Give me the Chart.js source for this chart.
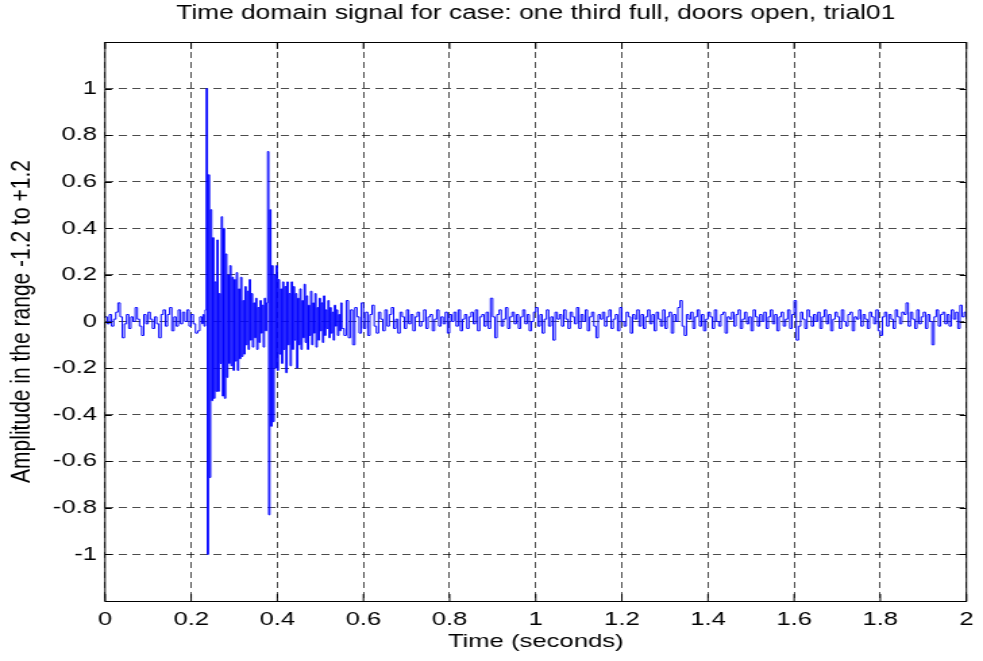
<!DOCTYPE html>
<html>
<head>
<meta charset="utf-8">
<title>Time domain signal</title>
<script src="https://cdn.jsdelivr.net/npm/chart.js@4.4.1/dist/chart.umd.min.js"></script>
<style>
  html, body { margin: 0; padding: 0; background: #fff; overflow: hidden; }
</style>
</head>
<body>
<!-- the figure is horizontally stretched like the original export -->
<canvas id="plot" width="728" height="661" style="width:983px;height:661px;"></canvas>
<script>
// tick labels
const xTickValues = [0, 0.2, 0.4, 0.6, 0.8, 1, 1.2, 1.4, 1.6, 1.8, 2];
const yTickValues = [-1, -0.8, -0.6, -0.4, -0.2, 0, 0.2, 0.4, 0.6, 0.8, 1];

// quiet lead-in, 0 .. 0.225 s, one sample every 5 ms
const leadStart = 0;
const leadStep = 0.005;
const leadValues = [
  0.02, -0.01, 0.03, -0.02, 0.01, 0.04, 0.08, 0.02, -0.07, -0.01,
  0.03, -0.03, 0.02, 0.00, 0.06, 0.01, -0.02, -0.06, 0.03, -0.01,
  0.04, 0.01, -0.03, 0.02, -0.01, -0.07, 0.03, 0.05, -0.02, 0.03,
  0.06, -0.04, 0.02, -0.02, 0.05, -0.01, 0.04, 0.00, 0.05, -0.02,
  0.03, -0.01, -0.05, -0.04, 0.02, -0.01
];

// the two knocks, 0.2275 .. 0.55 s, one sample every 2.5 ms
const burstStart = 0.2275;
const burstStep = 0.0025;
const burstValues = [
  0.03, -0.02, 0.05, 1.00, -1.00, 0.63, -0.67, 0.48, -0.34, 0.36,
  -0.33, 0.17, -0.30, 0.35, -0.30, 0.12, -0.18, 0.45, -0.32, 0.40,
  -0.33, 0.29, -0.24, 0.20, -0.18, 0.24, -0.19, 0.19, -0.21, 0.18,
  -0.17, 0.21, -0.21, 0.14, -0.16, 0.19, -0.15, 0.09, -0.14, 0.15,
  -0.10, 0.13, -0.12, 0.18, -0.08, 0.12, -0.11, 0.08, -0.07, 0.10,
  -0.12, 0.06, -0.09, 0.09, -0.05, 0.07, -0.11, 0.10, -0.04, 0.08,
  0.73, -0.83, 0.48, -0.45, 0.24, -0.43, 0.20, -0.20, 0.24, -0.21,
  0.18, -0.14, 0.14, -0.18, 0.17, -0.12, 0.15, -0.22, 0.17, -0.10,
  0.12, -0.19, 0.17, -0.12, 0.15, -0.08, 0.12, -0.20, 0.10, -0.10,
  0.14, -0.12, 0.09, -0.07, 0.16, -0.09, 0.11, -0.12, 0.07, -0.06,
  0.13, -0.10, 0.08, -0.05, 0.12, -0.11, 0.06, -0.08, 0.10, -0.04,
  0.08, -0.09, 0.11, -0.06, 0.05, -0.03, 0.09, -0.07, 0.06, -0.05,
  0.04, -0.08, 0.07, -0.02, 0.05, -0.06, 0.03, -0.04, 0.08, -0.03
];

// background noise after the knocks, 0.555 .. 2.0 s, one sample every 5 ms
const tailStart = 0.555;
const tailStep = 0.005;
const tailValues = [
  -0.06, 0.09, -0.07, 0.05, -0.10, 0.06, 0.02, -0.05, 0.08, -0.03, 0.04, -0.06, 0.03, 0.07, -0.02, -0.05, 0.04, 0.01, -0.04, 0.05,
  -0.02, 0.03, 0.06, -0.03, 0.01, -0.05, 0.04, 0.02, -0.03, 0.05, -0.01, 0.03, -0.04, 0.02, 0.04, -0.02, 0.00, 0.05, -0.03, 0.02,
  0.03, -0.04, 0.01, 0.05, -0.02, 0.02, -0.01, 0.04, -0.05, 0.03, 0.00, 0.04, -0.02, 0.05, -0.04, 0.01, 0.03, -0.03, 0.02, 0.04,
  -0.01, 0.05, -0.04, 0.02, 0.03, -0.02, 0.04, -0.03, 0.10, 0.02, -0.07, 0.03, 0.05, -0.02, 0.01, 0.06, -0.03, 0.02, 0.04, -0.01,
  0.03, -0.03, 0.02, 0.05, -0.01, 0.03, -0.04, 0.00, 0.04, 0.06, -0.02, 0.03, -0.05, 0.01, 0.05, -0.02, 0.02, -0.08, 0.04, 0.01,
  0.03, -0.02, 0.05, 0.01, -0.03, 0.04, 0.02, -0.01, 0.06, -0.03, 0.03, 0.00, 0.05, -0.04, 0.02, 0.04, -0.02, -0.07, 0.03, 0.01,
  0.04, -0.02, 0.02, 0.05, -0.03, 0.01, 0.03, -0.04, 0.06, 0.00, -0.02, 0.04, 0.02, -0.05, 0.03, 0.01, 0.05, -0.02, 0.03, -0.03,
  0.02, 0.05, -0.01, 0.03, -0.04, 0.04, 0.01, -0.02, 0.05, -0.03, 0.02, 0.04, -0.05, 0.03, 0.00, 0.06, 0.09, -0.02, -0.06, 0.03,
  0.01, 0.04, -0.03, 0.02, 0.05, -0.02, 0.03, -0.04, 0.01, 0.04, 0.02, -0.03, 0.05, 0.00, -0.02, 0.03, 0.04, -0.05, 0.02, 0.01,
  0.04, -0.02, 0.03, 0.05, -0.03, 0.01, 0.04, -0.01, 0.02, -0.04, 0.05, 0.02, -0.02, 0.03, 0.00, 0.04, -0.03, 0.02, 0.05, -0.01,
  0.03, -0.04, 0.02, 0.04, -0.02, 0.01, 0.05, -0.03, 0.03, 0.09, -0.08, -0.02, 0.04, 0.01, -0.03, 0.05, 0.02, -0.02, 0.03, 0.00,
  0.04, -0.03, 0.02, 0.05, -0.01, 0.03, -0.04, 0.01, 0.04, 0.02, -0.03, 0.05, 0.00, -0.02, 0.03, 0.04, -0.04, 0.02, 0.01, 0.05,
  -0.02, 0.03, 0.01, -0.03, 0.04, 0.02, -0.01, 0.05, -0.04, -0.06, 0.02, 0.04, -0.02, 0.03, 0.01, -0.03, 0.05, 0.02, -0.01, 0.04,
  0.03, 0.08, -0.02, 0.04, 0.01, -0.03, 0.05, -0.01, 0.02, 0.04, -0.03, 0.03, 0.00, -0.10, 0.02, 0.05, -0.02, 0.03, 0.04, -0.01,
  0.03, -0.02, 0.05, 0.01, 0.04, -0.03, 0.07, 0.02, 0.04, 0.01
];

const FONT = "'Liberation Sans', Arial, Helvetica, sans-serif";

function toPoints(start, step, values) {
  return values.map((v, i) => ({ x: start + i * step, y: v }));
}

const signal = [
  ...toPoints(leadStart, leadStep, leadValues),
  ...toPoints(burstStart, burstStep, burstValues),
  ...toPoints(tailStart, tailStep, tailValues),
];

// MATLAB style box with inward tick marks on all four sides
const axesBox = {
  id: 'axesBox',
  afterDatasetsDraw(chart) {
    const { ctx, chartArea: a, scales: { x, y } } = chart;
    ctx.save();
    ctx.strokeStyle = '#000';
    ctx.lineWidth = 1;
    ctx.beginPath();
    xTickValues.forEach((v) => {
      const px = x.getPixelForValue(v);
      ctx.moveTo(px, a.bottom); ctx.lineTo(px, a.bottom - 7);
      ctx.moveTo(px, a.top); ctx.lineTo(px, a.top + 7);
    });
    yTickValues.forEach((v) => {
      const py = Math.round(y.getPixelForValue(v)) + 0.5;
      ctx.moveTo(a.left, py); ctx.lineTo(a.left + 5, py);
      ctx.moveTo(a.right, py); ctx.lineTo(a.right - 5, py);
    });
    ctx.stroke();
    ctx.strokeRect(a.left, Math.round(a.top) + 0.5, a.right - a.left, Math.round(a.bottom - a.top));
    ctx.restore();
  },
};

new Chart(document.getElementById('plot'), {
  type: 'line',
  data: {
    datasets: [{
      label: 'signal',
      data: signal,
      borderColor: '#0000ff',
      borderWidth: 1,
      pointRadius: 0,
      stepped: true,
      fill: false,
    }],
  },
  options: {
    responsive: false,
    devicePixelRatio: 1,
    animation: false,
    events: [],
    layout: { padding: { left: 0, right: 8.9, top: 0, bottom: 0 } },
    plugins: {
      legend: { display: false },
      tooltip: { enabled: false },
      title: {
        display: true,
        fullSize: false,
        text: 'Time domain signal for case: one third full, doors open, trial01',
        color: '#000',
        font: { family: FONT, size: 19.5, weight: 'normal' },
        padding: { top: 2.3, bottom: 16.3 },
      },
    },
    scales: {
      x: {
        type: 'linear',
        min: 0,
        max: 2,
        afterBuildTicks: (s) => { s.ticks = xTickValues.map((v) => ({ value: v })); },
        afterFit: (s) => { s.height = 60; },
        ticks: {
          color: '#000',
          font: { family: FONT, size: 19 },
          padding: 7,
          maxRotation: 0,
          autoSkip: false,
          callback: (v) => String(v),
        },
        grid: { color: 'rgba(0,0,0,0.7)', lineWidth: 1, drawTicks: false },
        border: { display: false, dash: [6, 4] },
        title: {
          display: true,
          text: 'Time (seconds)',
          color: '#000',
          font: { family: FONT, size: 19 },
          padding: { top: 0, bottom: 8 },
        },
      },
      y: {
        type: 'linear',
        min: -1.2,
        max: 1.2,
        afterBuildTicks: (s) => { s.ticks = yTickValues.map((v) => ({ value: v })); },
        afterFit: (s) => { s.width = 77.8; },
        ticks: {
          color: '#000',
          font: { family: FONT, size: 19 },
          padding: 6,
          autoSkip: false,
          callback: (v) => String(v),
        },
        grid: { color: 'rgba(0,0,0,0.7)', lineWidth: 1, drawTicks: false },
        border: { display: false, dash: [6, 4] },
        title: {
          display: true,
          text: 'Amplitude in the range -1.2 to +1.2',
          color: '#000',
          font: { family: FONT, size: 21 },
          padding: { top: 4, bottom: 0 },
        },
      },
    },
  },
  plugins: [axesBox],
});
</script>
</body>
</html>
